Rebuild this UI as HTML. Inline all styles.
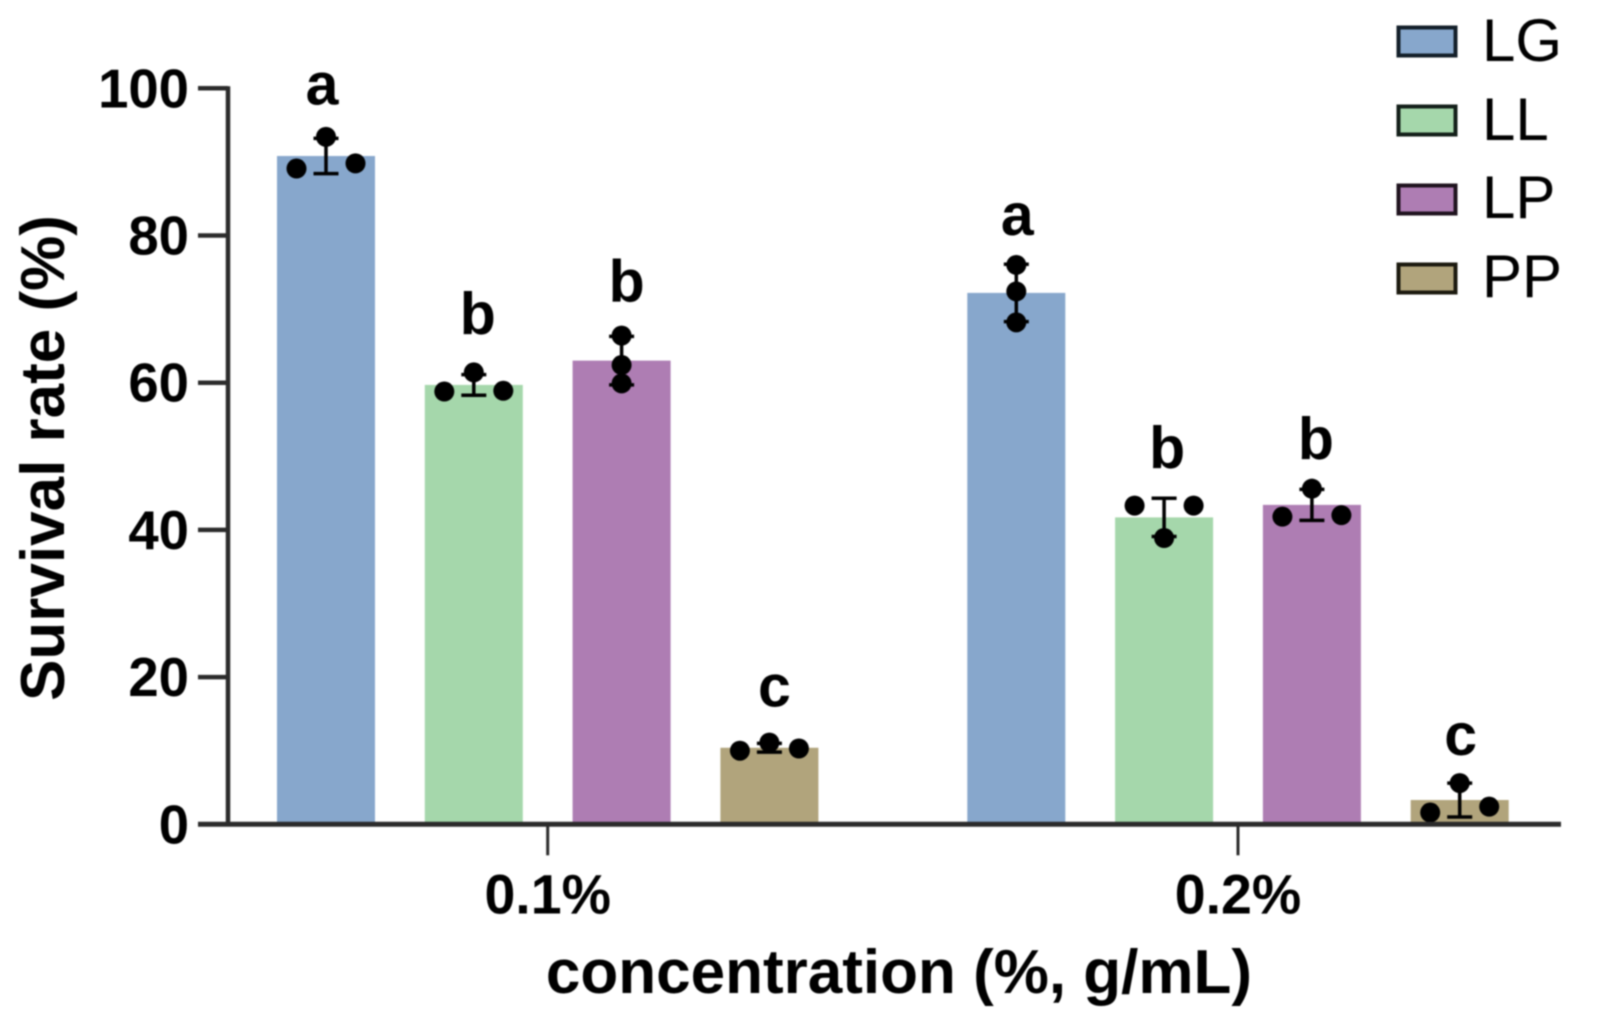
<!DOCTYPE html>
<html lang="en">
<head>
<meta charset="utf-8">
<title>Survival rate by concentration</title>
<style>
  html, body { margin: 0; padding: 0; background: #fff; }
  svg { display: block; filter: blur(0.7px); }
  text { font-family: "Liberation Sans", sans-serif; fill: #000; }
  .bold { font-weight: 700; }
</style>
</head>
<body>
<svg id="chart" xmlns="http://www.w3.org/2000/svg" width="1599" height="1023" viewBox="0 0 1599 1023">
  <rect x="0" y="0" width="1599" height="1023" fill="#ffffff"/>
  <g id="bars"></g>
  <g id="errors"></g>
  <g id="points"></g>
  <g id="letters"></g>
  <g id="axes"></g>
  <text class="bold" font-size="62" text-anchor="middle" transform="translate(64 458) rotate(-90)">Survival rate (%)</text>
  <text class="bold" font-size="62" text-anchor="middle" x="899" y="993">concentration (%, g/mL)</text>
  <g>
    <g>
      <rect x="1398.5" y="27.5" width="57" height="28" fill="#87A7CC" stroke="#14202a" stroke-width="4"/>
      <text x="1482" y="61" font-size="60">LG</text>
    </g>
    <g>
      <rect x="1398.5" y="106.5" width="57" height="28" fill="#A5D7AB" stroke="#14201a" stroke-width="4"/>
      <text x="1482" y="140" font-size="60">LL</text>
    </g>
    <g>
      <rect x="1398.5" y="185.5" width="57" height="28" fill="#AE7DB3" stroke="#20141f" stroke-width="4"/>
      <text x="1482" y="218" font-size="60">LP</text>
    </g>
    <g>
      <rect x="1398.5" y="264.5" width="57" height="28" fill="#B1A47C" stroke="#1c1a10" stroke-width="4"/>
      <text x="1482" y="297" font-size="60">PP</text>
    </g>
  </g>
</svg>
<script>
const groupLabels = ['0.1%', '0.2%'];
const seriesNames = ['LG', 'LL', 'LP', 'PP'];
const yTickValues = [0, 20, 40, 60, 80, 100];
const meansLow = [90.8, 59.7, 63.0, 10.4];
const meansHigh = [72.2, 41.7, 43.4, 3.3];
const sdLow = [2.4, 1.4, 3.3, 0.6];
const sdHigh = [3.9, 2.6, 2.1, 2.3];
const pointsLow = [[93.4, 89.8, 89.1], [61.4, 58.9, 58.8], [66.4, 62.4, 59.9], [11.1, 10.3, 10.0]];
const pointsHigh = [[76.0, 72.4, 68.2], [43.3, 43.3, 38.9], [45.6, 42.0, 41.8], [5.6, 2.4, 1.6]];
const lettersLow = ['a', 'b', 'b', 'c'];
const lettersHigh = ['a', 'b', 'b', 'c'];
const letterLevelsLow = [97.8, 66.6, 71.0, 16.0];
const letterLevelsHigh = [80.1, 48.4, 49.6, 9.4];

const NS = 'http://www.w3.org/2000/svg';
const palette = ['#87A7CC', '#A5D7AB', '#AE7DB3', '#B1A47C'];
const plot = { y0: 824.3, unit: 7.36, axisX: 228, axisEnd: 1561, first: 547.7, groupStep: 690.3, barStep: 147.8, barWidth: 98, dodge: 29.5, bin: 0.8 };
const letterNudge = { x: [-4, 4, 5, 5, 1, 3, 4, 1] };

function yScale(v) { return plot.y0 - v * plot.unit; }
function groupCenter(g) { return plot.first + g * plot.groupStep; }
function barCenter(g, s) { return groupCenter(g) + (s - (seriesNames.length - 1) / 2) * plot.barStep; }

function make(tag, attrs, parent) {
  const el = document.createElementNS(NS, tag);
  for (const k in attrs) el.setAttribute(k, attrs[k]);
  parent.appendChild(el);
  return el;
}

function dodgeSlots(values) {
  const order = values.map(function (v, i) { return i; }).sort(function (a, b) { return values[b] - values[a]; });
  const slots = values.map(function () { return 0; });
  for (let k = 0; k < order.length - 1; k++) {
    const upper = order[k], lower = order[k + 1];
    const next = order[k + 2];
    const laterCloser = next !== undefined && (values[lower] - values[next]) < (values[upper] - values[lower]);
    if (values[upper] - values[lower] < plot.bin && !laterCloser) {
      slots[upper] = 1;
      slots[lower] = -1;
      k++;
    }
  }
  return slots;
}

const barsG = document.getElementById('bars');
const errorsG = document.getElementById('errors');
const pointsG = document.getElementById('points');
const lettersG = document.getElementById('letters');
const axesG = document.getElementById('axes');

const meansByGroup = [meansLow, meansHigh];
const sdByGroup = [sdLow, sdHigh];
const pointsByGroup = [pointsLow, pointsHigh];
const lettersByGroup = [lettersLow, lettersHigh];
const levelsByGroup = [letterLevelsLow, letterLevelsHigh];

groupLabels.forEach(function (label, g) {
  seriesNames.forEach(function (name, s) {
    const cx = barCenter(g, s);
    const mean = meansByGroup[g][s];
    const sd = sdByGroup[g][s];
    const tag = name.toLowerCase() + '-' + (g === 0 ? 'low' : 'high');

    const bar = make('rect', { x: cx - plot.barWidth / 2, y: yScale(mean), width: plot.barWidth, height: yScale(0) - yScale(mean), fill: palette[s] }, barsG);
    
    

    const err = make('path', {
      d: 'M' + cx + ' ' + yScale(mean + sd) + 'V' + yScale(mean - sd) +
         'M' + (cx - 12.5) + ' ' + yScale(mean + sd) + 'H' + (cx + 12.5) +
         'M' + (cx - 12.5) + ' ' + yScale(mean - sd) + 'H' + (cx + 12.5),
      stroke: '#000', 'stroke-width': 3.5, fill: 'none'
    }, errorsG);
    
    

    const values = pointsByGroup[g][s];
    const slots = dodgeSlots(values);
    values.forEach(function (v, i) {
      const dot = make('circle', { cx: cx + slots[i] * plot.dodge, cy: yScale(v), r: 10, fill: '#000' }, pointsG);
      
      
    });

    const letter = make('text', { x: cx + letterNudge.x[g * seriesNames.length + s], y: yScale(levelsByGroup[g][s]), 'font-size': 59, 'font-weight': 700, 'text-anchor': 'middle' }, lettersG);
    letter.textContent = lettersByGroup[g][s];
    
    
  });
});

const yLine = make('line', { x1: plot.axisX, x2: plot.axisX, y1: yScale(100) - 2, y2: yScale(0), stroke: '#2b2b2b', 'stroke-width': 4.5 }, axesG);



const xLine = make('line', { x1: 198, x2: plot.axisEnd, y1: yScale(0), y2: yScale(0), stroke: '#2b2b2b', 'stroke-width': 5 }, axesG);



yTickValues.forEach(function (v) {
  if (v > 0) {
    const tick = make('line', { x1: 198, x2: plot.axisX, y1: yScale(v), y2: yScale(v), stroke: '#2b2b2b', 'stroke-width': 4.5 }, axesG);
    
    
  }
  const lab = make('text', { x: 189, y: yScale(v) + 19, 'font-size': 54.5, 'font-weight': 700, 'text-anchor': 'end' }, axesG);
  lab.textContent = String(v);
  
  
});

groupLabels.forEach(function (label, g) {
  const cx = groupCenter(g);
  const tick = make('line', { x1: cx, x2: cx, y1: yScale(0), y2: yScale(0) + 31, stroke: '#2b2b2b', 'stroke-width': 3 }, axesG);
  
  
  const lab = make('text', { x: cx, y: 913.5, 'font-size': 55.5, 'font-weight': 700, 'text-anchor': 'middle' }, axesG);
  lab.textContent = label;
  
  
});
</script>
</body>
</html>
